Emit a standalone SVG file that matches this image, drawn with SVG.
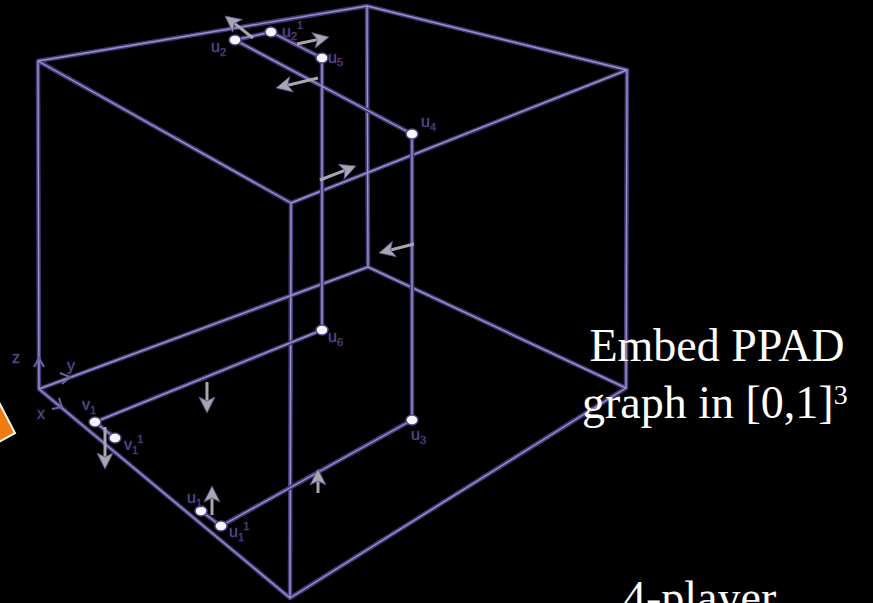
<svg xmlns="http://www.w3.org/2000/svg" xmlns:xlink="http://www.w3.org/1999/xlink" width="873" height="603" viewBox="0 0 873 603">
<style>
.outer{fill:none;stroke:#463878;stroke-width:4.5;stroke-linejoin:round;stroke-linecap:round}
.inner{fill:none;stroke:#9d93c8;stroke-width:1.4;stroke-linejoin:round;stroke-linecap:round}
.dot{fill:#f6f4fb;stroke:#55468a;stroke-width:1.5}
.shaft{fill:none;stroke:#a7a7b0;stroke-width:3}
.head{fill:#a7a7b0;stroke:#5a4c90;stroke-width:0.8;stroke-linejoin:round}
.lbl{font-family:"Liberation Sans",Arial,sans-serif;font-size:16px;fill:#7265a8;stroke:#3a2d66;stroke-width:0.6}
.sub{font-size:11px}
.ax{fill:none;stroke:#6f62a4;stroke-width:2}
.big{font-family:"Liberation Serif","Times New Roman",serif;font-size:46px;fill:#ffffff}
</style>
<defs>
<path id="cubeP" d="M38,61 L367,6 L627,70 L291,203 Z M38,61 L39,389 M367,6 L368,267 M627,70 L626,388 M291,203 L290,598 M39,389 L368,267 L626,388 L290,598 Z"/>
<path id="pathP" d="M235,40 L271,32 L322,58 L322,330 L95,422 L115,438 M235,40 L412,134 L412,420 L221,526 L201,511"/>
</defs>
<rect x="0" y="0" width="873" height="603" fill="#000000"/>
<g id="cube">
<use xlink:href="#cubeP" class="outer"/>
<use xlink:href="#cubeP" class="inner"/>
</g>
<g id="connectors">
<use xlink:href="#pathP" class="outer"/>
<use xlink:href="#pathP" class="inner"/>
<line class="shaft" x1="253" y1="38" x2="234.4" y2="23.4"/>
<polygon class="head" points="225,16 242.5,19.6 234.4,23.4 232.7,32.2"/>
<line class="shaft" x1="297" y1="44" x2="317.3" y2="39.6"/>
<polygon class="head" points="329,37 315.1,48.2 317.3,39.6 311.7,32.6"/>
<line class="shaft" x1="318" y1="78" x2="287.7" y2="85.2"/>
<polygon class="head" points="276,88 289.8,76.5 287.7,85.2 293.4,92.1"/>
<line class="shaft" x1="320" y1="180" x2="344.8" y2="170.4"/>
<polygon class="head" points="356,166 344,179.3 344.8,170.4 338.2,164.3"/>
<line class="shaft" x1="414" y1="244" x2="390.6" y2="250"/>
<polygon class="head" points="379,253 392.5,241.2 390.6,250 396.5,256.8"/>
<line class="shaft" x1="207" y1="382" x2="207" y2="401"/>
<polygon class="head" points="207,413 199,397 207,401 215,397"/>
<line class="shaft" x1="318" y1="493" x2="318" y2="481"/>
<polygon class="head" points="318,469 310,485 318,481 326,485"/>
<line class="shaft" x1="105" y1="427" x2="105" y2="457"/>
<polygon class="head" points="105,469 97,453 105,457 113,453"/>
<line class="shaft" x1="212" y1="515" x2="212" y2="498"/>
<polygon class="head" points="212,486 204,502 212,498 220,502"/>
</g>
<g id="axes">
<polyline class="ax" points="34,367 39,358 44,367"/>
<polyline class="ax" points="60,373 70,377 62,384"/>
<polyline class="ax" points="52,409 62,407 59,398"/>
<text class="lbl" x="12" y="363">z</text>
<text class="lbl" x="67" y="371">y</text>
<text class="lbl" x="37" y="419">x</text>
</g>
<g id="u2"><ellipse class="dot" cx="235" cy="40" rx="6" ry="5"/><text class="lbl" x="211" y="52">u<tspan class="sub" dy="4">2</tspan></text></g>
<g id="u2p"><ellipse class="dot" cx="271" cy="32" rx="6" ry="5"/><text class="lbl" x="282" y="37">u<tspan class="sub" dy="3">2</tspan><tspan class="sub" dy="-11">1</tspan></text></g>
<g id="u5"><ellipse class="dot" cx="322" cy="58" rx="6" ry="5"/><text class="lbl" x="328" y="63">u<tspan class="sub" dy="3">5</tspan></text></g>
<g id="u4"><ellipse class="dot" cx="412" cy="134" rx="6" ry="5"/><text class="lbl" x="421" y="127">u<tspan class="sub" dy="4">4</tspan></text></g>
<g id="u6"><ellipse class="dot" cx="322" cy="330" rx="6" ry="5"/><text class="lbl" x="328" y="342">u<tspan class="sub" dy="4">6</tspan></text></g>
<g id="u3"><ellipse class="dot" cx="412" cy="420" rx="6" ry="5"/><text class="lbl" x="411" y="440">u<tspan class="sub" dy="4">3</tspan></text></g>
<g id="v1"><ellipse class="dot" cx="95" cy="422" rx="6" ry="5"/><text class="lbl" x="82" y="410">v<tspan class="sub" dy="4">1</tspan></text></g>
<g id="v1p"><ellipse class="dot" cx="115" cy="438" rx="6" ry="5"/><text class="lbl" x="124" y="450">v<tspan class="sub" dy="4">1</tspan><tspan class="sub" dy="-11">1</tspan></text></g>
<g id="u1"><ellipse class="dot" cx="201" cy="511" rx="6" ry="5"/><text class="lbl" x="187" y="503">u<tspan class="sub" dy="4">1</tspan></text></g>
<g id="u1p"><ellipse class="dot" cx="221" cy="526" rx="6" ry="5"/><text class="lbl" x="229" y="537">u<tspan class="sub" dy="4">1</tspan><tspan class="sub" dy="-11">1</tspan></text></g>
<g id="marker"><polygon points="-10,385 15,433 -10,447" fill="#f07a10" stroke="#ffffff" stroke-width="2"/></g>
<g id="caption">
<text class="big" x="717" y="361" text-anchor="middle">Embed PPAD</text>
<text class="big" x="582" y="418">graph in [0,1]<tspan font-size="28" dy="-14">3</tspan></text>
<text class="big" x="623" y="613">4-player</text>
</g>
</svg>
